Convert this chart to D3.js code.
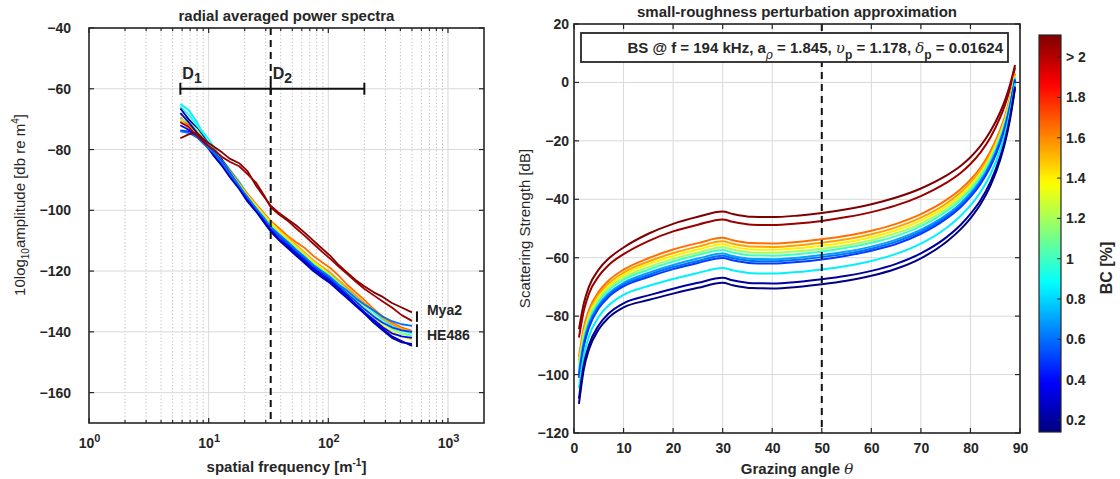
<!DOCTYPE html>
<html><head><meta charset="utf-8">
<script src="https://cdn.jsdelivr.net/npm/d3@7"></script>
<style>
body{margin:0;background:#fff}
svg{display:block}
text{font-family:"Liberation Sans",Arial,sans-serif;fill:#262626}
</style>
</head><body>
<svg id="c" width="1120" height="479"></svg>
<script>
// ---------------- DATA: left panel (radial averaged power spectra) ----------------
const specFreq = [5.8, 6.8, 8, 9.3, 11, 13, 15, 18, 21, 25, 29, 33, 39, 46, 54, 64, 75, 88, 104, 122, 144, 170, 200, 240, 285, 340, 410, 500];
const specBC = [0.85, 0.9, 0.2, 1.65, 1.55, 1.4, 1.15, 0.5, 0.4, 0.25, 0.6, 2.1, 2.05];
const specCyanA  = [-65, -67, -71, -76, -82, -85.5, -87.5, -91, -95, -99.5, -102.5, -105.5, -108, -110.5, -113, -115.5, -118, -119.5, -121.5, -124.5, -127, -129.5, -132, -134.5, -137, -139, -140.5, -141.3];
const specCyanB  = [-66, -68.5, -72, -75, -79, -83.5, -86.5, -90.5, -94.5, -98.5, -102, -104.5, -107.5, -109.5, -112, -114.5, -117, -119, -121, -123.5, -126, -128.5, -131, -133.5, -136, -138, -139.5, -140.5];
const specNavyA  = [-66.5, -70, -73, -76.5, -80, -83.5, -87, -91, -95, -99, -102.5, -105.5, -108.5, -111.5, -114, -116.5, -119, -121, -123, -125.5, -128, -131, -133.5, -136.5, -139, -141.5, -143, -144.6];
const specOrangeA= [-69.5, -72, -74.5, -77, -80.5, -84, -87, -91, -94.5, -98, -101, -103.5, -106, -108.5, -110.5, -112.5, -115, -117, -119, -121.5, -124.5, -127, -129.5, -132.5, -135, -137, -138.5, -139.7];
const specOrangeB= [-70.5, -73, -75.5, -78, -81, -84.5, -87.5, -91.5, -95, -98.5, -101.5, -104, -106.5, -109, -111.5, -114, -116.5, -118.5, -120.5, -123, -125.5, -128, -130.5, -133, -135.5, -137.5, -139, -140];
const specYellow = [-71, -72.5, -75, -78.5, -81.5, -84.5, -87.5, -91.5, -95, -98.5, -101.5, -104, -107, -109.5, -112, -114.5, -117, -119, -121.5, -124, -126.5, -129.5, -132, -135, -138, -140, -141.5, -142.5];
const specGreen  = [-70, -71, -73.5, -77, -80, -84, -87.5, -91.5, -95.5, -99, -102, -105, -107.5, -110, -112.5, -115, -117.5, -119.5, -121.5, -124, -127, -129.5, -132, -134.5, -137, -139, -140.5, -141.5];
const specBlueA  = [-73.7, -74, -75, -77.5, -80.5, -84, -87.5, -92, -96, -99.5, -103, -106, -108.5, -111, -113.5, -116, -118.5, -120.5, -122.5, -125, -127.5, -130, -132.5, -135, -137, -138.5, -139.5, -140];
const specBlueB  = [-72, -73.5, -76, -78, -81.5, -85, -88.5, -92.5, -96.5, -100, -103.5, -106.5, -109.5, -112, -114.5, -117, -119.5, -121.5, -123.5, -126, -128.5, -131, -133.5, -136, -138.5, -140.5, -141.5, -142];
const specNavyB  = [-68, -71, -74.5, -78, -82, -85.5, -89, -93, -97, -100.5, -104, -107, -110, -112.5, -115, -117.5, -120, -122, -124, -126.5, -129, -131.5, -134, -137, -139.5, -142, -143.5, -144];
const specBlueC  = [-74, -74.5, -76, -78.5, -81, -84.5, -88, -92, -95.5, -99.5, -102.5, -105.5, -108, -110.5, -113, -115.5, -118, -120, -122, -124.5, -126.5, -129, -131, -133, -135, -136.5, -137.5, -138];
const specMya2A  = [-76.3, -75, -74.5, -77, -79, -81, -83, -84.5, -87, -92, -95.5, -98.5, -101, -103, -105, -107.5, -110, -112.5, -115, -118, -120.5, -123, -125, -127, -128.5, -130.5, -132, -133.6];
const specMya2B  = [-71, -72.5, -75.5, -78, -80, -82.5, -84, -85.5, -88, -91, -95, -99, -101.5, -103.5, -106, -108.5, -111, -113.5, -116, -118.5, -121, -123.5, -125.8, -128, -130, -132, -134.5, -136.4];
const specSeries = [specCyanA, specCyanB, specNavyA, specOrangeA, specOrangeB, specYellow, specGreen, specBlueA, specBlueB, specNavyB, specBlueC, specMya2A, specMya2B];

const leftXTicks = [1, 10, 100, 1000];
const leftXMinor = [2,3,4,5,6,7,8,9,20,30,40,50,60,70,80,90,200,300,400,500,600,700,800,900];
const leftYTicks = [-160, -140, -120, -100, -80, -60, -40];
const dRangeF = [5.8, 33, 200];   // D1 start, D2 (dashed line), end
const dRangeLevel = -60;
const he486Span = [-137.5, -145];

// ---------------- DATA: right panel (scattering strength) ----------------
const angles = [1, 2, 3, 5, 7, 10, 15, 20, 25, 30, 32, 36, 40, 45, 50, 55, 60, 65, 70, 75, 78, 80, 82, 84, 86, 87, 88, 89];
const ssBC = [2.11, 2.06, 1.65, 1.55, 1.4, 1.2, 1.0, 0.7, 0.6, 0.5, 0.85, 0.2, 0.15];
const ssDarkRedA = [-84.5, -75.5, -70, -64, -60.3, -56.5, -51.8, -48.4, -46, -44.2, -45, -46, -46.1, -45.6, -44.7, -43.4, -41.7, -39.4, -36.3, -32, -28.6, -25.6, -21.8, -16.8, -10.2, -6, -0.7, 6];
const ssDarkRedB = [-87.3, -78.0, -72.4, -66.3, -62.5, -58.8, -54.3, -51.0, -48.7, -46.9, -47.7, -48.7, -48.8, -48.3, -47.4, -46.1, -44.4, -42.1, -38.9, -34.5, -31.0, -27.9, -24.0, -18.9, -12.0, -7.6, -2.0, 5.1];
const ssOrangeA  = [-93.9, -83.8, -78.0, -71.6, -67.8, -64.1, -60.2, -57.2, -55.0, -53.2, -54, -55, -55.1, -54.6, -53.7, -52.5, -50.8, -48.4, -45.1, -40.4, -36.6, -33.3, -29.2, -23.7, -16.2, -11.4, -5.1, 3.0];
const ssOrangeB  = [-95.2, -85.0, -79.0, -72.6, -68.8, -65.1, -61.3, -58.4, -56.2, -54.4, -55.2, -56.2, -56.3, -55.8, -54.9, -53.7, -52.0, -49.6, -46.3, -41.6, -37.7, -34.4, -30.2, -24.7, -17.0, -12.1, -5.7, 2.6];
const ssYellow   = [-96.2, -85.9, -79.9, -73.4, -69.6, -65.9, -62.2, -59.4, -57.2, -55.4, -56.2, -57.2, -57.3, -56.8, -55.9, -54.7, -53.0, -50.6, -47.3, -42.5, -38.6, -35.2, -31.0, -25.4, -17.7, -12.7, -6.1, 2.3];
const ssGreen    = [-97.3, -86.8, -80.8, -74.3, -70.4, -66.8, -63.2, -60.4, -58.2, -56.4, -57.2, -58.2, -58.3, -57.8, -56.9, -55.7, -54.0, -51.6, -48.3, -43.4, -39.5, -36.1, -31.8, -26.2, -18.4, -13.3, -6.6, 2.0];
const ssTeal     = [-98.3, -87.7, -81.6, -75.1, -71.2, -67.6, -64.1, -61.3, -59.1, -57.4, -58.2, -59.2, -59.3, -58.8, -57.9, -56.6, -54.9, -52.6, -49.2, -44.3, -40.3, -36.9, -32.6, -26.9, -19.0, -13.8, -7.1, 1.7];
const ssBlueA    = [-99.5, -88.8, -82.7, -76.1, -72.2, -68.6, -65.2, -62.5, -60.3, -58.6, -59.4, -60.4, -60.5, -60.0, -59.1, -57.9, -56.2, -53.8, -50.4, -45.5, -41.4, -37.9, -33.6, -27.8, -19.8, -14.6, -7.7, 1.3];
const ssBlueB    = [-100.3, -89.5, -83.3, -76.7, -72.8, -69.2, -65.9, -63.2, -61.1, -59.3, -60.1, -61.1, -61.2, -60.7, -59.8, -58.6, -56.9, -54.5, -51.1, -46.1, -42.1, -38.6, -34.2, -28.4, -20.3, -15.0, -8.0, 1.0];
const ssBlueC    = [-101.1, -90.1, -84.0, -77.3, -73.4, -69.8, -66.6, -63.9, -61.8, -60.1, -60.9, -61.9, -62.0, -61.5, -60.6, -59.3, -57.6, -55.3, -51.8, -46.8, -42.7, -39.2, -34.8, -29.0, -20.8, -15.4, -8.4, 0.8];
const ssCyan     = [-104.6, -93.3, -87.0, -80.2, -76.3, -72.7, -69.7, -67.3, -65.2, -63.5, -64.3, -65.3, -65.4, -64.9, -64.0, -62.8, -61.1, -58.7, -55.2, -50.0, -45.7, -42.1, -37.6, -31.6, -23.1, -17.5, -10.0, -0.3];
const ssNavyA    = [-108.2, -96.4, -90.0, -83.1, -79.1, -75.6, -72.9, -70.6, -68.6, -66.9, -67.7, -68.7, -68.8, -68.3, -67.4, -66.2, -64.5, -62.1, -58.5, -53.2, -48.8, -45.0, -40.4, -34.2, -25.4, -19.5, -11.7, -1.4];
const ssNavyB    = [-110, -98, -91.5, -84.5, -80.5, -77, -74.5, -72.3, -70.3, -68.6, -69.4, -70.4, -70.5, -70, -69.1, -67.9, -66.2, -63.8, -60.2, -54.8, -50.3, -46.5, -41.8, -35.5, -26.5, -20.5, -12.5, -2];
const ssSeries = [ssDarkRedA, ssDarkRedB, ssOrangeA, ssOrangeB, ssYellow, ssGreen, ssTeal, ssBlueA, ssBlueB, ssBlueC, ssCyan, ssNavyA, ssNavyB];

const rightXTicks = [0,10,20,30,40,50,60,70,80,90];
const rightYTicks = [-120,-100,-80,-60,-40,-20,0,20];
const refAngle = 50;
const cbTicks = [0.2,0.4,0.6,0.8,1,1.2,1.4,1.6,1.8,2];
const cbLabels = ["0.2","0.4","0.6","0.8","1","1.2","1.4","1.6","1.8","> 2"];
const cbDomain = [0.14, 2.11];

// ---------------- helpers ----------------
const svg = d3.select("#c");
const jetPos = [0, 0.125, 0.375, 0.625, 0.875, 1];
const jetCol = ["#00007f","#0000ff","#00ffff","#ffff00","#ff0000","#7f0000"];
const jet = d3.scaleLinear().domain(jetPos).range(jetCol).interpolate(d3.interpolateRgb).clamp(true);
const bcNorm = d3.scaleLinear().domain(cbDomain).range([0,1]).clamp(true);
const bcColor = v => jet(bcNorm(v));
const AX = "#262626", GRID = "#d9d9d9";

// ================= LEFT PANEL =================
const L = {x0:89, x1:484, y0:28, y1:423};
const xL = d3.scaleLog().domain([1,2000]).range([L.x0, L.x1]);
const yL = d3.scaleLinear().domain([-170,-40]).range([L.y1, L.y0]);
const gL = svg.append("g");

svg.append("defs").html(
  `<clipPath id="clipL"><rect x="${L.x0}" y="${L.y0}" width="${L.x1-L.x0}" height="${L.y1-L.y0}"/></clipPath>
   <clipPath id="clipR"><rect x="574" y="24" width="446" height="409"/></clipPath>`);

gL.selectAll(".mg").data(leftXMinor).join("line")
  .attr("x1",d=>xL(d)).attr("x2",d=>xL(d)).attr("y1",L.y0).attr("y2",L.y1)
  .attr("stroke","#bcbcbc").attr("stroke-width",1).attr("stroke-dasharray","1.2,2.2");
gL.selectAll(".Mg").data(leftXTicks.slice(1)).join("line")
  .attr("x1",d=>xL(d)).attr("x2",d=>xL(d)).attr("y1",L.y0).attr("y2",L.y1)
  .attr("stroke",GRID).attr("stroke-width",1);
gL.selectAll(".yg").data(leftYTicks).join("line")
  .attr("x1",L.x0).attr("x2",L.x1).attr("y1",d=>yL(d)).attr("y2",d=>yL(d))
  .attr("stroke",GRID).attr("stroke-width",1);

const lineL = d3.line().x((d,i)=>xL(specFreq[i])).y(d=>yL(d));
const gLines = gL.append("g").attr("clip-path","url(#clipL)");
specSeries.forEach((s,k)=>{
  gLines.append("path").attr("d", lineL(s)).attr("fill","none")
    .attr("stroke", bcColor(specBC[k])).attr("stroke-width",1.8).attr("stroke-linejoin","round");
});

gL.append("line").attr("x1",xL(dRangeF[1])).attr("x2",xL(dRangeF[1])).attr("y1",L.y0).attr("y2",L.y1)
  .attr("stroke","#111").attr("stroke-width",2).attr("stroke-dasharray","7,5");

const yD = yL(dRangeLevel);
gL.append("line").attr("x1",xL(dRangeF[0])).attr("x2",xL(dRangeF[2])).attr("y1",yD).attr("y2",yD)
  .attr("stroke","#111").attr("stroke-width",2);
dRangeF.forEach(f=>{
  gL.append("line").attr("x1",xL(f)).attr("x2",xL(f)).attr("y1",yD-6).attr("y2",yD+6)
    .attr("stroke","#111").attr("stroke-width",2);
});
[["D","1",dRangeF[0]],["D","2",dRangeF[1]]].forEach(([a,b,f])=>{
  const t = gL.append("text").attr("x",xL(f)+2).attr("y",yD-10).attr("font-size",16).attr("font-weight","bold").attr("fill","#111");
  t.append("tspan").text(a);
  t.append("tspan").attr("dy",4).attr("font-size",14).text(b);
});

const fEnd = specFreq[specFreq.length-1];
const bx = xL(fEnd)+5;
const mya = [specMya2A[specMya2A.length-1], specMya2B[specMya2B.length-1]];
gL.append("line").attr("x1",bx).attr("x2",bx).attr("y1",yL(mya[0])-1).attr("y2",yL(mya[1])+1).attr("stroke","#111").attr("stroke-width",2);
gL.append("line").attr("x1",bx).attr("x2",bx).attr("y1",yL(he486Span[0])).attr("y2",yL(he486Span[1])).attr("stroke","#111").attr("stroke-width",2);
gL.append("text").attr("x",bx+10).attr("y",yL(mya[0])+3).attr("font-size",14).attr("font-weight","bold").text("Mya2");
gL.append("text").attr("x",bx+10).attr("y",yL(-141)+5).attr("font-size",14).attr("font-weight","bold").text("HE486");

gL.append("rect").attr("x",L.x0).attr("y",L.y0).attr("width",L.x1-L.x0).attr("height",L.y1-L.y0)
  .attr("fill","none").attr("stroke",AX).attr("stroke-width",1.6);

const tickL = (vals,len)=>{
  vals.forEach(v=>{
    gL.append("line").attr("x1",xL(v)).attr("x2",xL(v)).attr("y1",L.y1).attr("y2",L.y1-len).attr("stroke",AX).attr("stroke-width",1.2);
    gL.append("line").attr("x1",xL(v)).attr("x2",xL(v)).attr("y1",L.y0).attr("y2",L.y0+len).attr("stroke",AX).attr("stroke-width",1.2);
  });
};
tickL(leftXTicks,5); tickL(leftXMinor,3);
leftYTicks.forEach(v=>{
  gL.append("line").attr("x1",L.x0).attr("x2",L.x0+5).attr("y1",yL(v)).attr("y2",yL(v)).attr("stroke",AX).attr("stroke-width",1.2);
  gL.append("line").attr("x1",L.x1).attr("x2",L.x1-5).attr("y1",yL(v)).attr("y2",yL(v)).attr("stroke",AX).attr("stroke-width",1.2);
});
const axYL = gL.append("g").attr("transform",`translate(${L.x0},0)`)
  .call(d3.axisLeft(yL).tickValues(leftYTicks).tickSize(0).tickPadding(18).tickFormat(d3.format("d")));
axYL.select(".domain").remove();
axYL.selectAll("text").attr("font-size",14).attr("font-weight","bold").attr("fill",AX).attr("font-family","Liberation Sans, Arial, sans-serif");
const axXL = gL.append("g").attr("transform",`translate(0,${L.y1})`)
  .call(d3.axisBottom(xL).tickValues(leftXTicks).tickSize(0).tickPadding(14).tickFormat(""));
axXL.select(".domain").remove();
axXL.selectAll(".tick").each(function(d){
  const t = d3.select(this).append("text").attr("y",25).attr("text-anchor","middle")
    .attr("font-size",14).attr("font-weight","bold").attr("fill",AX);
  t.append("tspan").text("10");
  t.append("tspan").attr("dy",-6).attr("font-size",11).text(Math.round(Math.log10(d)));
});
gL.append("text").attr("x",(L.x0+L.x1)/2).attr("y",21).attr("text-anchor","middle").attr("font-size",15).attr("font-weight","bold").attr("fill","#111").text("radial averaged power spectra");
const xtL = gL.append("text").attr("x",(L.x0+L.x1)/2).attr("y",472).attr("text-anchor","middle").attr("font-size",15).attr("font-weight","bold").attr("fill",AX);
xtL.append("tspan").text("spatial frequency [m");
xtL.append("tspan").attr("dy",-6).attr("font-size",10).text("-1");
xtL.append("tspan").attr("dy",6).text("]");
const ytL = gL.append("text").attr("transform","translate(25,205) rotate(-90)").attr("text-anchor","middle").attr("font-size",15).attr("fill",AX);
ytL.append("tspan").text("10log");
ytL.append("tspan").attr("dy",4).attr("font-size",10).text("10");
ytL.append("tspan").attr("dy",-4).text("amplitude [db re m");
ytL.append("tspan").attr("dy",-6).attr("font-size",10).text("4");
ytL.append("tspan").attr("dy",6).text("]");

// ================= RIGHT PANEL =================
const R = {x0:574, x1:1020, y0:24, y1:433};
const xR = d3.scaleLinear().domain([0,90]).range([R.x0,R.x1]);
const yR = d3.scaleLinear().domain([-120,20]).range([R.y1,R.y0]);
const gR = svg.append("g");
gR.selectAll(".xg").data(rightXTicks).join("line")
  .attr("x1",d=>xR(d)).attr("x2",d=>xR(d)).attr("y1",R.y0).attr("y2",R.y1).attr("stroke",GRID).attr("stroke-width",1);
gR.selectAll(".yg").data(rightYTicks).join("line")
  .attr("x1",R.x0).attr("x2",R.x1).attr("y1",d=>yR(d)).attr("y2",d=>yR(d)).attr("stroke",GRID).attr("stroke-width",1);

const lineR = d3.line().x((d,i)=>xR(angles[i])).y(d=>yR(d)).curve(d3.curveMonotoneX);
const gRL = gR.append("g").attr("clip-path","url(#clipR)");
ssSeries.forEach((s,k)=>{
  gRL.append("path").attr("d",lineR(s)).attr("fill","none").attr("stroke",bcColor(ssBC[k])).attr("stroke-width",2);
});
gR.append("line").attr("x1",xR(refAngle)).attr("x2",xR(refAngle)).attr("y1",R.y0).attr("y2",R.y1)
  .attr("stroke","#111").attr("stroke-width",2).attr("stroke-dasharray","7,5");

gR.append("rect").attr("x",581).attr("y",33).attr("width",427).attr("height",29).attr("fill","#fff").attr("stroke",AX).attr("stroke-width",1.8);
const ann = gR.append("text").attr("x",1003).attr("y",53).attr("text-anchor","end").attr("font-size",15).attr("font-weight","bold").attr("fill","#111");
ann.append("tspan").text("BS @ f = 194 kHz, a");
ann.append("tspan").attr("dy",6).attr("font-family","DejaVu Serif, serif").attr("font-style","italic").attr("font-weight","normal").attr("font-size",12).text("ρ");
ann.append("tspan").attr("dy",-6).text(" = 1.845, ");
ann.append("tspan").attr("font-family","DejaVu Serif, serif").attr("font-style","italic").attr("font-weight","normal").text("υ");
ann.append("tspan").attr("dy",6).attr("font-size",12).text("p");
ann.append("tspan").attr("dy",-6).text(" = 1.178, ");
ann.append("tspan").attr("font-family","DejaVu Serif, serif").attr("font-style","italic").attr("font-weight","normal").text("δ");
ann.append("tspan").attr("dy",6).attr("font-size",12).text("p");
ann.append("tspan").attr("dy",-6).text(" = 0.01624");

gR.append("rect").attr("x",R.x0).attr("y",R.y0).attr("width",R.x1-R.x0).attr("height",R.y1-R.y0).attr("fill","none").attr("stroke",AX).attr("stroke-width",1.6);
rightXTicks.forEach(v=>{
  gR.append("line").attr("x1",xR(v)).attr("x2",xR(v)).attr("y1",R.y1).attr("y2",R.y1-5).attr("stroke",AX).attr("stroke-width",1.2);
  gR.append("line").attr("x1",xR(v)).attr("x2",xR(v)).attr("y1",R.y0).attr("y2",R.y0+5).attr("stroke",AX).attr("stroke-width",1.2);
});
rightYTicks.forEach(v=>{
  gR.append("line").attr("x1",R.x0).attr("x2",R.x0+5).attr("y1",yR(v)).attr("y2",yR(v)).attr("stroke",AX).attr("stroke-width",1.2);
  gR.append("line").attr("x1",R.x1).attr("x2",R.x1-5).attr("y1",yR(v)).attr("y2",yR(v)).attr("stroke",AX).attr("stroke-width",1.2);
});
const axXR = gR.append("g").attr("transform",`translate(0,${R.y1})`)
  .call(d3.axisBottom(xR).tickValues(rightXTicks).tickSize(0).tickPadding(10).tickFormat(d3.format("d")));
axXR.select(".domain").remove();
axXR.selectAll("text").attr("font-size",14).attr("font-weight","bold").attr("fill",AX).attr("font-family","Liberation Sans, Arial, sans-serif");
const axYR = gR.append("g").attr("transform",`translate(${R.x0},0)`)
  .call(d3.axisLeft(yR).tickValues(rightYTicks).tickSize(0).tickPadding(5).tickFormat(d3.format("d")));
axYR.select(".domain").remove();
axYR.selectAll("text").attr("font-size",14).attr("font-weight","bold").attr("fill",AX).attr("font-family","Liberation Sans, Arial, sans-serif");

gR.append("text").attr("x",(R.x0+R.x1)/2).attr("y",17).attr("text-anchor","middle").attr("font-size",15).attr("font-weight","bold").attr("fill","#111").text("small-roughness perturbation approximation");
const xtR = gR.append("text").attr("x",(R.x0+R.x1)/2).attr("y",474).attr("text-anchor","middle").attr("font-size",15).attr("font-weight","bold").attr("fill",AX);
xtR.append("tspan").text("Grazing angle ");
xtR.append("tspan").attr("font-family","DejaVu Serif, serif").attr("font-style","italic").attr("font-weight","normal").text("θ");
gR.append("text").attr("transform",`translate(530,${(R.y0+R.y1)/2}) rotate(-90)`).attr("text-anchor","middle").attr("font-size",15).attr("fill",AX).text("Scattering Strength [dB]");

// ================= COLORBAR =================
const CB = {x0:1039, x1:1061, y0:35, y1:432};
const yCB = d3.scaleLinear().domain(cbDomain).range([CB.y1, CB.y0]);
const grad = svg.select("defs").append("linearGradient").attr("id","jetg").attr("x1",0).attr("y1",1).attr("x2",0).attr("y2",0);
d3.range(0,1.0001,0.02).forEach(t=>grad.append("stop").attr("offset",t).attr("stop-color",jet(t)));
svg.append("rect").attr("x",CB.x0).attr("y",CB.y0).attr("width",CB.x1-CB.x0).attr("height",CB.y1-CB.y0)
  .attr("fill","url(#jetg)").attr("stroke",AX).attr("stroke-width",1.2);
cbTicks.forEach((v,i)=>{
  svg.append("line").attr("x1",CB.x1).attr("x2",CB.x1-4).attr("y1",yCB(v)).attr("y2",yCB(v)).attr("stroke",AX).attr("stroke-width",1);
  svg.append("text").attr("x",CB.x1+5).attr("y",yCB(v)+5).attr("font-size",14).attr("font-weight","bold").attr("fill",AX).text(cbLabels[i]);
});
svg.append("text").attr("transform","translate(1112,268) rotate(-90)").attr("text-anchor","middle").attr("font-size",16).attr("font-weight","bold").attr("fill","#111").text("BC [%]");
</script>
</body></html>
